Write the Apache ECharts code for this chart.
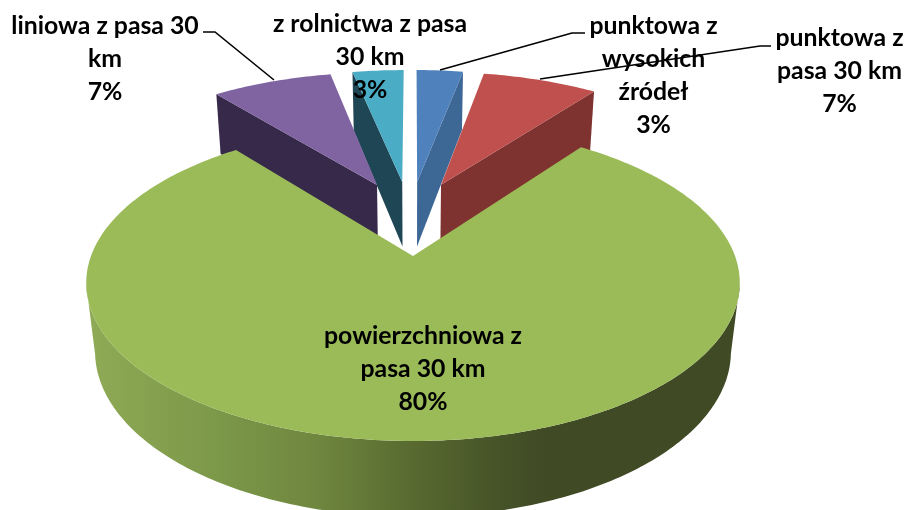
<!DOCTYPE html>
<html><head><meta charset="utf-8">
<style>html,body{margin:0;padding:0;background:#fff}#c{width:906px;height:510px}</style>
<script src="https://cdn.jsdelivr.net/npm/echarts@6/dist/echarts.min.js"></script>
</head><body><div id="c"></div>
<script>
const categories = ['punktowa z wysokich źródeł','punktowa z pasa 30 km','powierzchniowa z pasa 30 km','liniowa z pasa 30 km','z rolnictwa z pasa 30 km'];
const values = [2.9, 7.2, 79.2, 7.5, 3.2];
const labelTexts = ['punktowa z\nwysokich\nźródeł\n3%','punktowa z\npasa 30 km\n7%','powierzchniowa z\npasa 30 km\n80%','liniowa z pasa 30\nkm\n7%','z rolnictwa z pasa\n30 km\n3%'];
const topColors = ['#4f81bd','#c0504d','#9bbb59','#8064a2','#4bacc6'];
const sideColors = ['#3d6896','#7f3331','#404a25','#37294a','#1f4654'];

// view parameters of the tilted, exploded pie
const view = {cx:413, cy:256, rx:322, ry:153.55, k:0.17, m:0.027, h:70, explode:0.263, shift:-0.005};
const labelPos = [[653.5,76],[839.5,71.5],[423,369],[105,59],[370,57.5]];
const leaders = [[[440,70],[572,33],[585,33]],[[540,79],[760,46],[771,46]],null,[[203,32],[215,32],[274,80]],null];
const total = values.reduce((a,b)=>a+b,0);
let acc = 0;
const sliceData = values.map(v=>{const r=[v,acc];acc+=v;return r;});

function project(u,v,z){
  const w = 1 - view.k*v + view.m*z;
  return [view.cx + view.rx*u/w, view.cy + (view.ry*v + view.h*z)/w];
}
function renderSlice(params, api){
  const val = api.value(0), start = api.value(1), i = params.dataIndex;
  const a0 = start/total*2*Math.PI, a1 = (start+val)/total*2*Math.PI, mid=(a0+a1)/2;
  // offset relative to the largest slice, which sits at the projection centre
  const gm = (sliceData[2][1]+sliceData[2][0]/2)/total*2*Math.PI;
  const ox = view.explode*(Math.sin(mid)-Math.sin(gm)) + (i===2?0:view.shift), oy = view.explode*(-Math.cos(mid)+Math.cos(gm));
  const P = (a,r,z)=>project(ox+r*Math.sin(a), oy-r*Math.cos(a), z);
  const n = Math.max(4,Math.round(val*4));
  const angles=[];for(let j=0;j<=n;j++)angles.push(a0+(a1-a0)*j/n);
  const arc=(z)=>angles.map(a=>P(a,1,z));
  const z2 = Math.round(100*(1-Math.cos(mid)));
  const kids=[];
  const fillSide = i===2 ? new echarts.graphic.LinearGradient(86,0,740,0,[
    {offset:0,color:'#8fab56'},{offset:0.2,color:'#7c9849'},{offset:0.35,color:'#6f873f'},
    {offset:0.5,color:'#586a30'},{offset:0.62,color:'#475528'},{offset:0.7,color:'#404a25'},{offset:1,color:'#404a25'}],true) : sideColors[i];
  const poly=(pts,fill)=>kids.push({type:'polygon',shape:{points:pts},style:{fill:fill},z2:z2});
  // outer wall: only the part of the rim that faces the viewer
  const front = angles.filter(a=>oy-Math.cos(a)>=view.k);
  if(front.length>1){
    poly(front.map(a=>P(a,1,0)).concat(front.slice().reverse().map(a=>P(a,1,1))),fillSide);
  }
  if(val<total/2){
    const e = mid<Math.PI ? a1 : a0;
    poly([P(0,0,0),P(e,1,0),P(e,1,1),P(0,0,1)],sideColors[i]);
  }
  poly([P(0,0,0)].concat(arc(0)),topColors[i]);
  return {type:'group',children:kids};
}
function renderLabel(params, api){
  const i = params.dataIndex, kids=[];
  if(leaders[i]) kids.push({type:'polyline',shape:{points:leaders[i]},style:{stroke:'#000',lineWidth:1.6,fill:null},z2:500});
  kids.push({type:'text',x:labelPos[i][0],y:labelPos[i][1],z2:600,style:{text:labelTexts[i],fill:'#000',
    font:'bold 24.8px Lato',lineHeight:33,align:'center',verticalAlign:'middle'}});
  return {type:'group',children:kids};
}
const chart = echarts.init(document.getElementById('c'),null,{renderer:'canvas'});
chart.setOption({
  animation:false,
  backgroundColor:'#fff',
  series:[
    {type:'custom',coordinateSystem:'none',renderItem:renderSlice,data:sliceData,silent:true,z:1},
    {type:'custom',coordinateSystem:'none',renderItem:renderLabel,data:categories.map((c,i)=>({name:c,value:[values[i]]})),silent:true,z:2}
  ]
});
</script></body></html>
